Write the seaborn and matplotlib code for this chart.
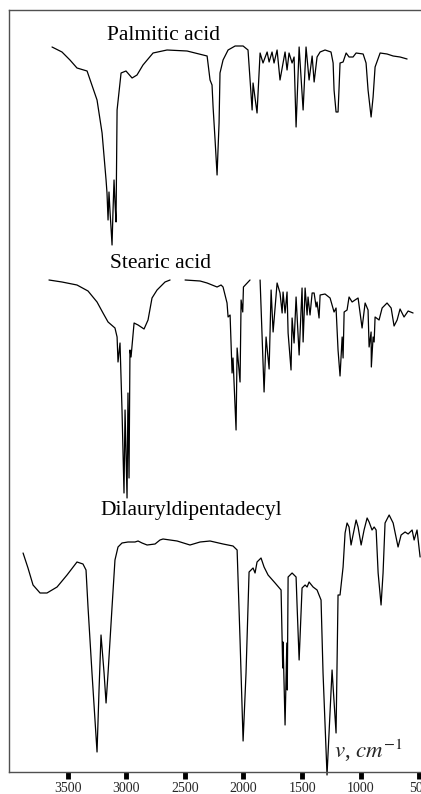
import numpy as np
import pandas as pd
import matplotlib
matplotlib.use("Agg")
import matplotlib.pyplot as plt
import seaborn as sns

# Wavenumbers (cm^-1) and offset transmittance (arbitrary units)
palmitic_wn = [3633, 3548, 3480, 3420, 3334, 3249, 3206, 3172, 3164, 3155, 3147, 3138, 3130,
               3121, 3113, 3104, 3096, 3087, 3078, 3044, 3002, 2950, 2908, 2857, 2771, 2652,
               2481, 2310, 2285, 2268, 2259, 2242, 2225, 2217, 2208, 2200, 2174, 2131, 2071,
               2003, 1961, 1926, 1918, 1884, 1858, 1833, 1798, 1781, 1756, 1739, 1713, 1688,
               1662, 1645, 1628, 1611, 1585, 1568, 1551, 1525, 1491, 1466, 1440, 1414, 1397,
               1372, 1346, 1304, 1253, 1235, 1227, 1210, 1193, 1184, 1176, 1150, 1124, 1099,
               1065, 1039, 979, 954, 937, 911, 894, 877, 834, 775, 723, 664, 604]
palmitic_t = [725, 720, 712, 704, 701, 672, 639, 592, 579, 552, 580, 560, 545,
              527, 560, 592, 570, 550, 662, 699, 701, 694, 697, 707, 719, 722,
              721, 716, 692, 687, 665, 632, 597, 622, 649, 699, 712, 722, 726,
              726, 722, 662, 689, 659, 719, 709, 720, 710, 720, 709, 722, 692,
              709, 720, 702, 719, 709, 715, 645, 725, 662, 725, 692, 716, 690,
              715, 720, 722, 720, 709, 682, 660, 660, 685, 709, 710, 719, 715,
              715, 719, 718, 709, 682, 655, 675, 705, 719, 718, 716, 715, 713]

stearic_wn = [3659, 3548, 3420, 3326, 3249, 3198, 3155, 3096, 3078, 3070, 3053, 3036, 3019,
              3010, 2993, 2985, 2976, 2968, 2959, 2933, 2899, 2848, 2814, 2780, 2737, 2669,
              2626, np.nan, 2498, 2370, 2310, 2225, 2191, 2174, 2140, 2131, 2114, 2097, 2089,
              2063, 2054, 2029, 2020, 2006, 2000, 1944, np.nan, 1858, 1824, 1807, 1781, 1764,
              1747, 1713, 1688, 1670, 1662, 1645, 1628, 1619, 1594, 1585, 1568, 1551, 1525,
              1500, 1491, 1474, 1457, 1449, 1432, 1414, 1397, 1380, 1372, 1355, 1346, 1304,
              1261, 1227, 1210, 1193, 1176, 1158, 1150, 1141, 1116, 1099, 1073, 1048, 1022,
              988, 962, 937, 928, 911, 909, 894, 885, 877, 843, 817, 775, 740, 715, 689, 664,
              630, 595, 553]
stearic_t = [492, 490, 487, 481, 470, 459, 450, 444, 435, 410, 429, 362, 279,
             362, 274, 379, 294, 422, 415, 449, 447, 443, 452, 474, 482, 490,
             492, np.nan, 492, 491, 489, 485, 487, 485, 469, 455, 457, 399, 414,
             342, 424, 390, 472, 460, 485, 492, np.nan, 492, 380, 435, 403, 482,
             440, 489, 479, 459, 480, 459, 480, 439, 402, 454, 429, 475, 417,
             484, 430, 484, 457, 475, 457, 479, 479, 465, 470, 454, 477, 478,
             474, 460, 464, 422, 396, 435, 414, 460, 462, 475, 470, 472, 474,
             444, 469, 462, 425, 440, 405, 435, 430, 455, 452, 464, 469, 464, 446, 452, 463,
             455, 461, 459]

dilauryl_wn = [3880, 3838, 3795, 3735, 3676, 3590, 3505, 3420, 3369, 3343, 3326, 3292, 3249,
               3232, 3215, 3189, 3172, 3155, 3121, 3096, 3070, 3036, 2985, 2925, 2899, 2865,
               2822, 2754, 2712, 2686, 2566, 2456, 2370, 2285, 2174, 2089, 2054, 2029, 2003,
               1978, 1952, 1918, 1901, 1884, 1850, 1824, 1790, 1730, 1679, 1665, 1662, 1645,
               1630, 1626, 1619, 1585, 1551, 1542, 1525, 1500, 1474, 1457, 1440, 1406, 1372,
               1338, 1321, 1287, 1244, 1235, 1210, 1193, 1176, 1150, 1133, 1116, 1099, 1082,
               1065, 1039, 1022, 996, 971, 945, 928, 903, 885, 868, 851, 826, 809, 792, 757,
               723, 681, 655, 621, 595, 561, 544, 519, 493]
dilauryl_t = [219, 204, 187, 179, 179, 185, 197, 210, 208, 202, 165, 99, 20,
              82, 137, 99, 69, 99, 165, 212, 225, 229, 230, 230, 231, 229,
              227, 228, 232, 233, 231, 227, 230, 231, 228, 226, 222, 132, 31,
              99, 200, 204, 199, 210, 214, 205, 197, 189, 182, 104, 130, 47,
              129, 82, 195, 199, 195, 165, 112, 184, 187, 185, 190, 185, 182,
              172, 99, -3, 102, 85, 39, 177, 177, 205, 239, 249, 245, 227,
              237, 252, 245, 227, 242, 254, 250, 242, 245, 242, 199, 167, 199, 249, 257,
              249, 225, 237, 240, 238, 242, 232, 242, 215]

names = ["Palmitic acid", "Stearic acid", "Dilauryldipentadecyl"]
label_pos = [(3164, 732), (3138, 504), (3224, 257)]
ticks = [3500, 3000, 2500, 2000, 1500, 1000, 500]

# long table, split into segments at the gaps
rows = []
for name, wn, t in zip(names, [palmitic_wn, stearic_wn, dilauryl_wn],
                       [palmitic_t, stearic_t, dilauryl_t]):
    seg = 0
    for x, y in zip(wn, t):
        if np.isnan(x):
            seg += 1
            continue
        rows.append({"wn": x, "t": y, "unit": f"{name}-{seg}"})
df = pd.DataFrame(rows)

sns.set_style("white")
plt.rcParams["font.family"] = ["Liberation Serif", "DejaVu Serif"]
plt.rcParams["mathtext.fontset"] = "stix"

fig = plt.figure(figsize=(4.21, 7.94), dpi=100)
ax = fig.add_axes([9 / 421, 22 / 794, 422 / 421, 762 / 794])

sns.lineplot(data=df, x="wn", y="t", units="unit", estimator=None, sort=False,
             color="black", lw=0.9, ax=ax, clip_on=False, legend=False)

for name, (x, y) in zip(names, label_pos):
    ax.text(x, y, name, fontsize=15.5, ha="left", va="baseline", color="black")

# axis label sits inside the plot, bottom right
ax.text(1225, 14, r"$v$, $cm^{-1}$", fontsize=16.5, ha="left", va="baseline")

ax.set_xlim(4000, 400)
ax.set_ylim(0, 762)
ax.set_xticks(ticks)
ax.set_xticklabels([str(t) for t in ticks], fontsize=10)
ax.set_yticks([])
ax.set_xlabel("")
ax.set_ylabel("")
ax.tick_params(axis="x", direction="out", length=5, width=3.5, color="black", pad=2,
               bottom=True)
for side in ["left", "top", "bottom"]:
    ax.spines[side].set_color("#505050")
    ax.spines[side].set_linewidth(1.0)
ax.spines["right"].set_visible(False)

fig.savefig("out.png", dpi=100)
